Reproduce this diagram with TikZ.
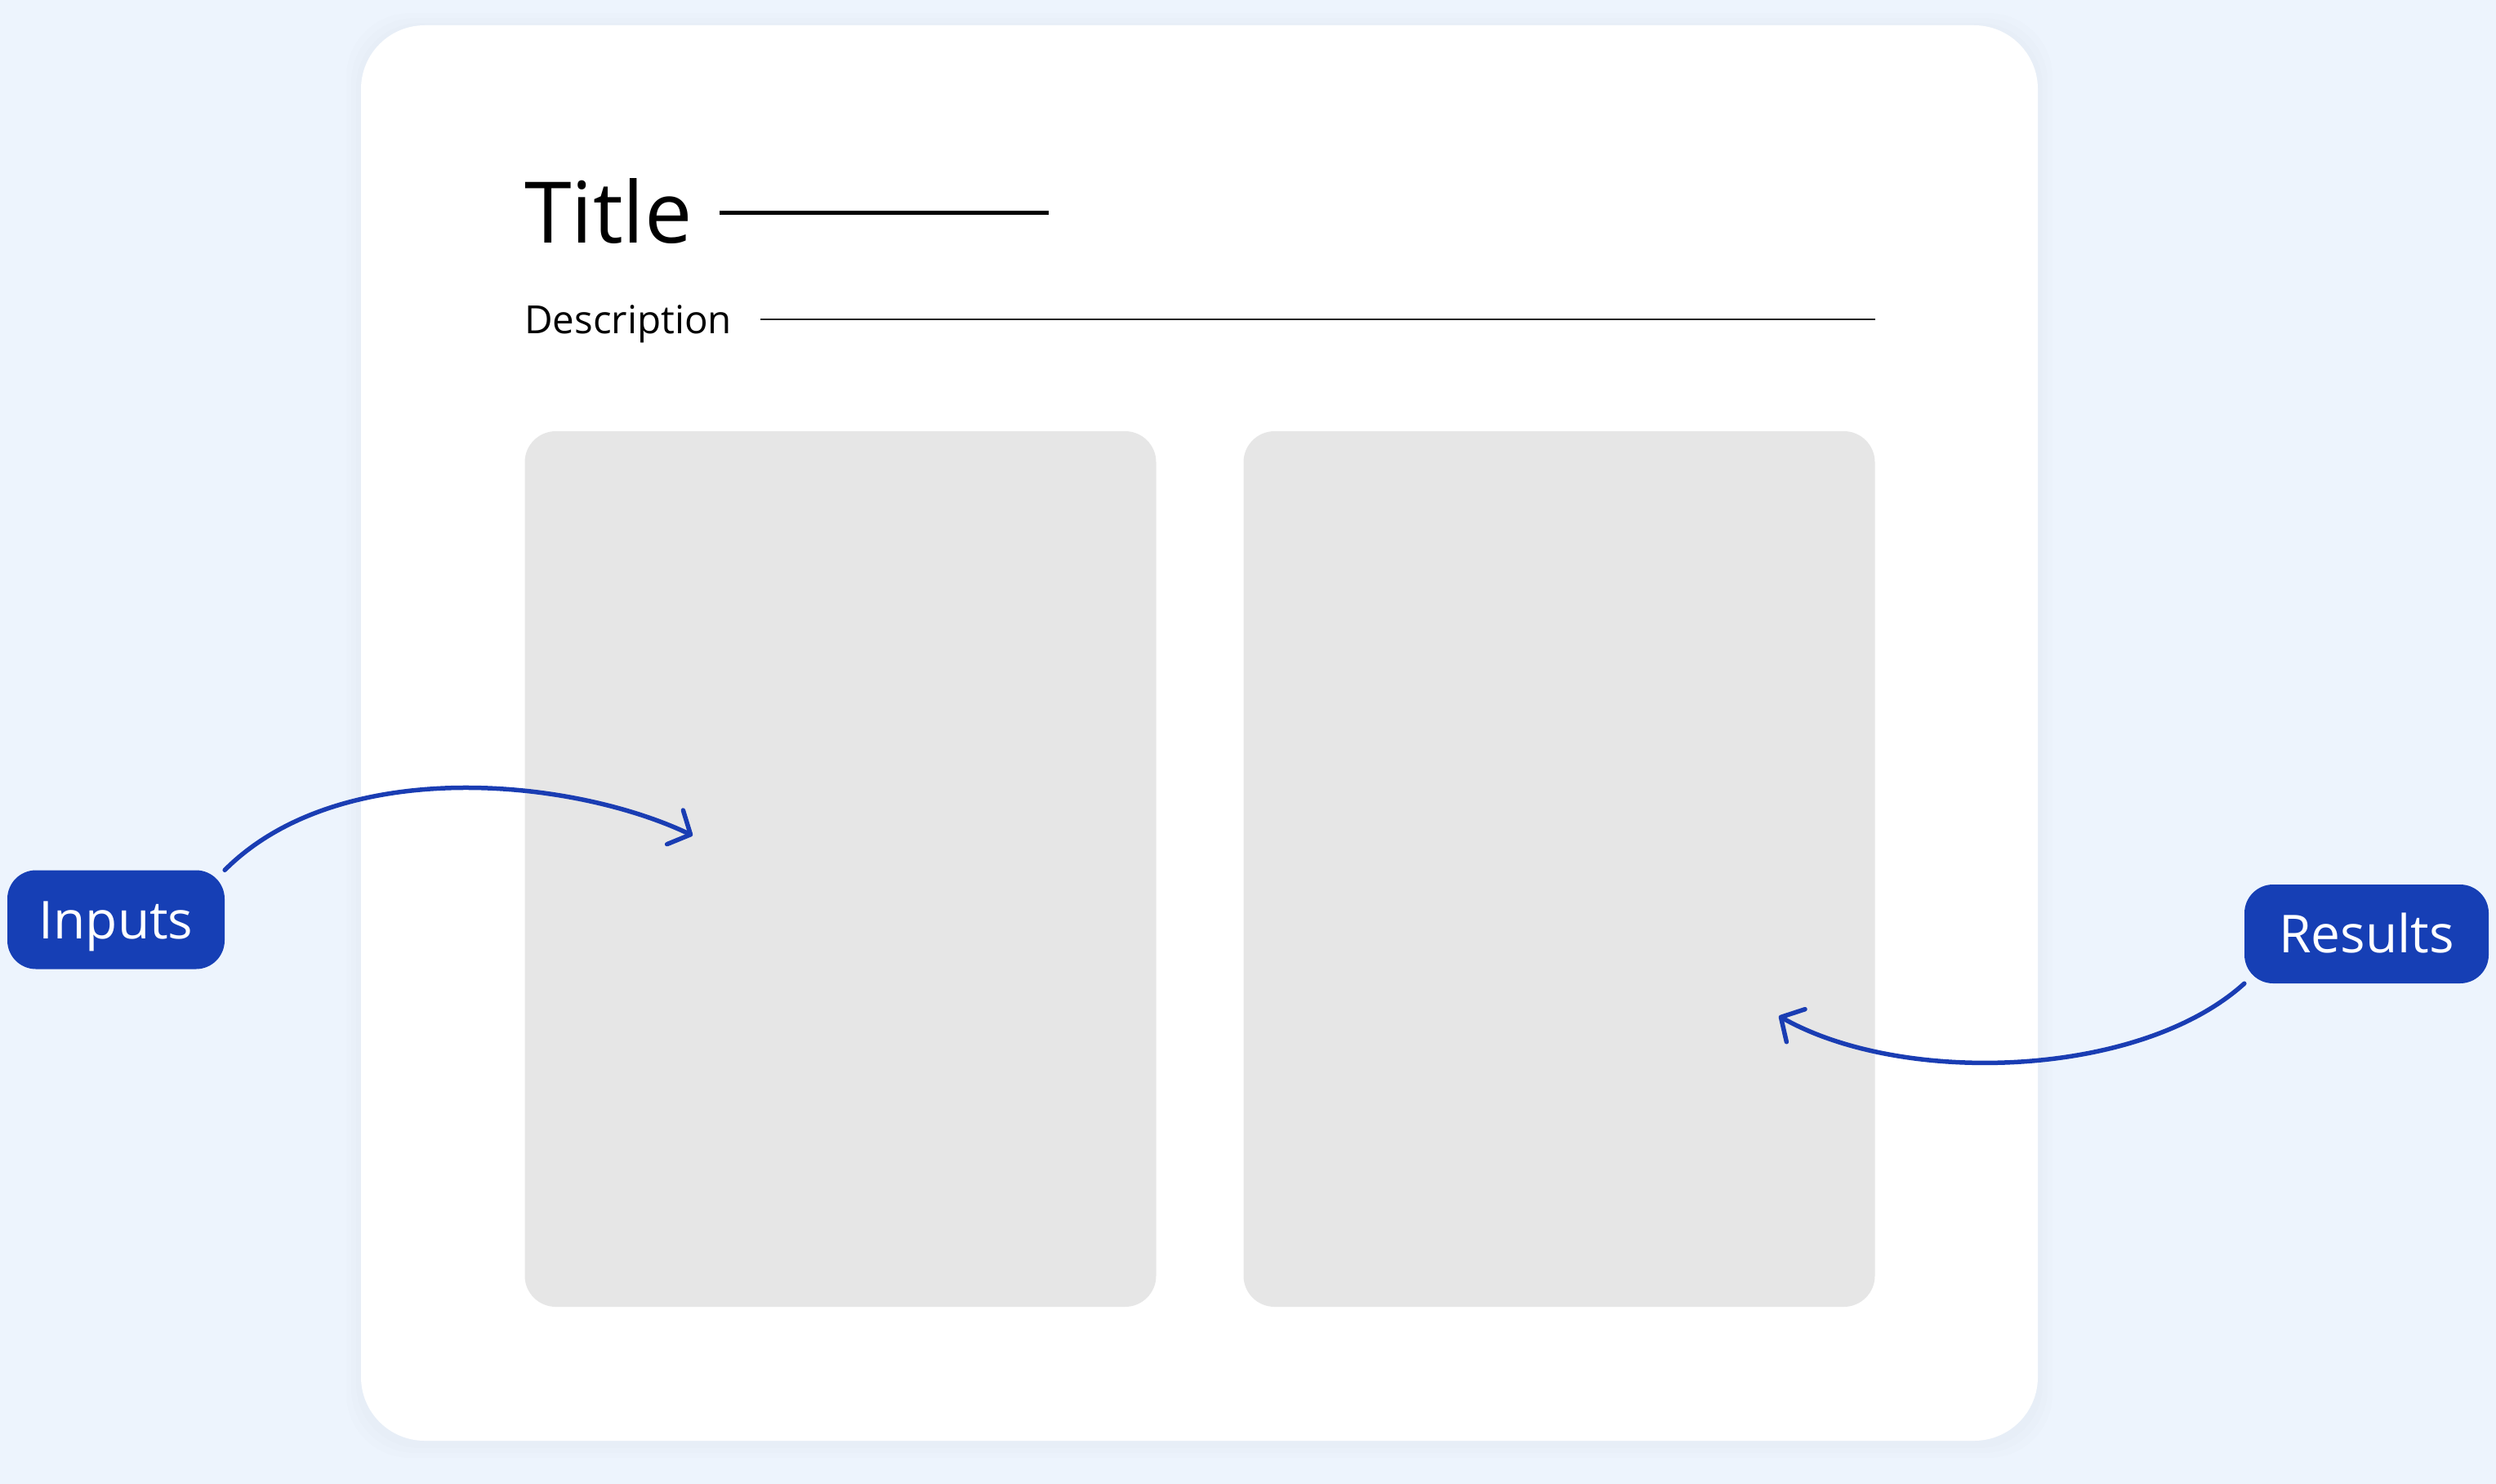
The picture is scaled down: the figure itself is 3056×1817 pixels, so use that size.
\documentclass[tikz,border=0pt]{standalone}
\usepackage{fontspec}
\setmainfont{Open Sans}
\usetikzlibrary{arrows.meta}
\definecolor{bgblue}{HTML}{EDF4FD}
\definecolor{panelgrey}{HTML}{E6E6E6}
\definecolor{tagblue}{HTML}{163FB5}
\definecolor{arrowblue}{HTML}{1A3DB3}
\begin{document}
\begin{tikzpicture}[x=1pt,y=-1pt,
  card/.style={fill=white, rounded corners=78pt, inner sep=0pt, minimum width=2053pt, minimum height=1733pt},
  panel/.style={fill=panelgrey, rounded corners=38pt, inner sep=0pt, minimum width=773pt, minimum height=1072pt},
  tag/.style={fill=tagblue, text=white, rounded corners=35pt, inner sep=0pt, text height=46pt, text depth=0pt,
    minimum height=121pt, font=\fontsize{64}{70}\selectfont},
  rule/.style={draw=black, line cap=butt},
  curvearrow/.style={draw=arrowblue, line width=5.5pt, line cap=round,
    -{Straight Barb[length=21pt,width=46pt,round]}}
]
\useasboundingbox (0,0) rectangle (3056,1817);
\fill[bgblue] (0,0) rectangle (3056,1817);
% soft shadow of the card
\foreach \e in {6,12,18}{
  \fill[black, opacity=0.006, rounded corners=78pt] (442-\e,31-\e+3) rectangle (2495+\e,1764+\e+3);
}
\node[card] (card) at (1468.5,897.5) {};
% title and description
\node[anchor=base west, inner sep=0pt, font=\fontsize{104}{110}\selectfont] (title) at (642,297) {Title};
\coordinate (tl1) at (881,260);
\coordinate (tl2) at (1284,260);
\draw[rule, line width=5pt] (tl1) -- (tl2);
\node[anchor=base west, inner sep=0pt, font=\fontsize{47.5}{52}\selectfont] (desc) at (642,408) {Description};
\coordinate (dl1) at (931,391);
\coordinate (dl2) at (2296,391);
\draw[rule, line width=2.5pt, draw=black!85] (dl1) -- (dl2);
% panels
\node[panel] (left) at (1029,1064) {};
\node[panel] (right) at (1909,1064) {};
% tags
\node[tag, minimum width=266pt] (inputs) at (142,1126) {Inputs};
\node[tag, minimum width=299pt] (results) at (2897.5,1143.5) {Results};
% arrows
\coordinate (inTip) at (848,1023);
\coordinate (resTip) at (2178,1244);
\draw[curvearrow] (inputs.north east) .. controls (415,925) and (698,952) .. (inTip);
\draw[curvearrow] (results.south west) .. controls (2620,1320) and (2330,1330) .. (resTip);
\end{tikzpicture}
\end{document}
